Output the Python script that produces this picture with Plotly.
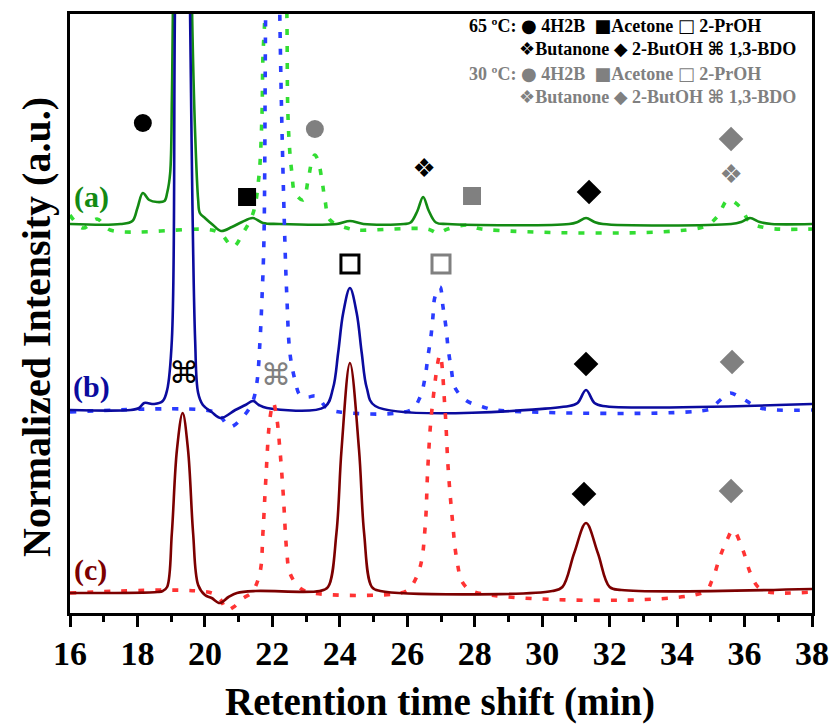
import plotly.graph_objects as go

# ---------------- data (retention time in min, intensity in a.u.) ----------------
a65_t = [16.0, 17.5, 17.85, 18.0, 18.16, 18.35, 18.58, 18.80, 18.88, 18.97, 19.02, 19.05, 19.34, 19.62, 19.71, 19.80, 19.85,
         20.0, 20.24, 20.48, 20.8, 21.1, 21.42, 21.72, 22.2, 23.9, 24.3, 24.7, 25.9, 26.10, 26.30, 26.47, 26.64, 26.85,
         27.2, 30.8, 31.05, 31.3, 31.55, 31.8, 35.6, 35.9, 36.16, 36.45, 36.8, 38.0]
a65_y = [389, 389, 392, 405, 420, 413, 411, 412, 420, 440, 513, 600, 1400, 600, 480, 413, 400,
         395, 388, 382, 386, 391, 395, 390, 389, 389, 392, 389, 389, 390.5, 402, 416, 402, 390.5,
         389, 389, 391, 395, 391, 389, 389, 391, 395, 391, 389, 389]

a30_t = [16.0, 16.39, 16.8, 17.19, 20.2, 20.51, 20.83, 21.13, 21.43, 21.60, 21.69, 21.72, 21.78, 22.10, 22.43, 22.46,
         22.52, 22.58, 22.67, 22.91, 23.06, 23.18, 23.26, 23.35, 23.47, 23.56, 23.71, 24.21, 24.5, 26.6, 26.91, 27.2,
         27.77, 28.2, 34.77, 35.18, 35.51, 35.87, 36.16, 36.67, 38.0]
a30_y = [398, 385, 394, 383, 383, 378, 366, 380, 400, 436, 496, 556, 600, 1400, 600, 500,
         460, 440, 420, 413, 433, 453, 458, 453, 433, 413, 393, 385, 383, 384, 380, 384,
         388, 384, 386, 396, 413, 406, 391, 385, 384]

b65_t = [16.0, 17.8, 18.05, 18.2, 18.5, 18.75, 18.88, 19.02, 19.11, 19.34, 19.56, 19.71, 19.80, 19.94, 20.2, 20.47,
         20.9, 21.2, 21.43, 21.6, 21.84, 23.55, 23.8, 23.95, 24.1, 24.3, 24.5, 24.65, 24.8, 25.05, 30.8, 31.05, 31.3,
         31.55, 31.8, 38.0]
b65_y = [203, 203, 205, 210, 209, 212, 223, 273, 600, 1400, 600, 273, 220, 208, 201, 195,
         203, 208, 212, 208, 205, 206, 225, 260, 300, 325, 300, 260, 225, 207, 207, 210, 223,
         210, 207, 209]

b30_t = [16.0, 20.3, 20.5, 20.74, 21.1, 21.4, 21.54, 21.63, 21.69, 21.75, 21.80, 22.02, 22.22, 22.37, 22.43, 22.52,
         22.67, 22.82, 23.05, 23.3, 23.62, 24.0, 26.1, 26.38, 26.53, 26.61, 26.70, 26.76, 26.82, 26.97, 27.06, 27.15,
         27.21, 27.30, 27.42, 27.77, 28.25, 28.6, 35.0, 35.12, 35.35, 35.57, 35.8, 36.01, 36.46, 38.0]
b30_y = [201, 201, 195, 186, 195, 210, 230, 270, 313, 373, 600, 1400, 600, 373, 316, 260,
         233, 218, 216, 217, 205, 201, 203, 216, 236, 256, 276, 296, 316, 326, 306, 285,
         265, 245, 225, 212, 206, 203, 204, 208, 215, 220, 217, 213, 205, 203]

c65_t = [16.0, 18.6, 18.75, 18.88, 19.02, 19.17, 19.34, 19.50, 19.65, 19.80, 20.0, 20.2, 20.44, 20.7, 20.95, 21.5,
         23.4, 23.65, 23.90, 24.05, 24.30, 24.57, 24.72, 24.95, 25.2, 30.3, 30.6, 30.95, 31.3, 31.65, 32.0, 32.35, 38.0]
c65_y = [20, 21, 22, 26, 80, 163, 200, 163, 80, 28, 18, 15, 10, 16, 20, 22,
         22, 26, 80, 163, 250, 163, 80, 26, 22, 22, 26, 60, 90, 60, 26, 23, 24]

c30_t = [16.0, 20.2, 20.45, 20.65, 20.85, 21.1, 21.4, 21.63, 21.72, 21.80, 21.93, 22.03, 22.13, 22.22, 22.32, 22.43,
         22.52, 22.82, 23.2, 25.8, 26.08, 26.38, 26.53, 26.61, 26.73, 26.97, 27.12, 27.21, 27.33, 27.47, 27.65, 28.0,
         34.8, 35.04, 35.27, 35.48, 35.66, 35.95, 36.16, 36.40, 36.7, 38.0]
c30_y = [20, 20, 14, 3, 6, 14, 21, 40, 80, 130, 195, 210, 195, 165, 120, 60,
         40, 25, 20, 20, 25, 46, 86, 146, 203, 258, 203, 146, 96, 53, 30, 21,
         21, 33, 56, 73, 83, 63, 41, 26, 21, 21]

# compound labels (65 ºC black, 30 ºC grey)
k_circle = [(18.16, 490), (23.26, 484)]
k_square = [(21.25, 416), (27.92, 417)]
k_open = [(24.30, 349), (27.00, 349)]
k_diam65 = [(31.39, 421), (31.30, 249), (31.24, 119)]
k_diam30 = [(35.60, 474), (35.63, 251), (35.60, 122)]
k_buta = [(26.50, 443), (35.60, 437)]
k_bdo = [(19.38, 238), (22.11, 236)]
group_labels = ["(a)", "(b)", "(c)"]
group_pos = [(16.65, 416), (16.65, 226), (16.6, 43)]

GREEN, LGREEN = "#138a13", "#33dd33"
NAVY, BLUE = "#0b0b9e", "#2a3cff"
DRED, RED = "#7c0000", "#ff3333"
GREY = "#808080"
SERIF = "Liberation Serif, Times New Roman, serif"
SYM = "DejaVu Sans, sans-serif"

fig = go.Figure()
dash = "6px,11px"

def add_line(t, y, color, dashed):
    fig.add_trace(go.Scatter(x=t, y=y, mode="lines",
                             line=dict(color=color, width=3.6 if dashed else 2.6,
                                       dash=dash if dashed else "solid", shape="spline", smoothing=1.0),
                             hoverinfo="skip", showlegend=False))

add_line(a30_t, a30_y, LGREEN, True)
add_line(a65_t, a65_y, GREEN, False)
add_line(b30_t, b30_y, BLUE, True)
add_line(b65_t, b65_y, NAVY, False)
add_line(c30_t, c30_y, RED, True)
add_line(c65_t, c65_y, DRED, False)

def add_markers(pts, colors, symbol, size, lw=0):
    fig.add_trace(go.Scatter(x=[p[0] for p in pts], y=[p[1] for p in pts], mode="markers",
                             marker=dict(symbol=symbol, size=size, color=colors,
                                         line=dict(width=lw, color=colors)),
                             hoverinfo="skip", showlegend=False, cliponaxis=False))

add_markers(k_circle, ["black", GREY], "circle", 18)
add_markers(k_square, ["black", GREY], "square", 18)
add_markers(k_open, ["black", GREY], "square-open", 18, 3)
add_markers(k_diam65, "black", "diamond", 19)
add_markers(k_diam30, GREY, "diamond", 19)

def add_text(pts, colors, txt, size):
    fig.add_trace(go.Scatter(x=[p[0] for p in pts], y=[p[1] for p in pts], mode="text",
                             text=[txt] * len(pts), textposition="middle center",
                             textfont=dict(family=SYM, size=size, color=colors),
                             hoverinfo="skip", showlegend=False))

add_text(k_buta, ["black", GREY], "❖", 26)
add_text(k_bdo, ["black", GREY], "⌘", 30)

for lab, (x, y), col in zip(group_labels, group_pos, [GREEN, NAVY, DRED]):
    fig.add_annotation(x=x, y=y, text="<b>%s</b>" % lab, showarrow=False, xref="x", yref="y",
                       font=dict(family=SERIF, size=30, color=col), xanchor="center", yanchor="middle")

def sym(c):
    return '<span style="font-family:DejaVu Sans">%s</span>' % c

legend_lines = [
    ("65 ºC: %s 4H2B  %sAcetone %s 2-PrOH" % (sym("●"), sym("■"), sym("□")), "black", 467, 25),
    ("%sButanone %s 2-ButOH %s 1,3-BDO" % (sym("❖"), sym("◆"), sym("⌘")), "black", 517, 49),
    ("30 ºC: %s 4H2B  %sAcetone %s 2-PrOH" % (sym("●"), sym("■"), sym("□")), GREY, 467, 73),
    ("%sButanone %s 2-ButOH %s 1,3-BDO" % (sym("❖"), sym("◆"), sym("⌘")), GREY, 517, 96),
]
for txt, col, px, py in legend_lines:
    fig.add_annotation(x=(px - 70) / 742, y=(613 - py) / 599, xref="paper", yref="paper",
                       text="<b>%s</b>" % txt, showarrow=False, xanchor="left", yanchor="middle",
                       font=dict(family=SERIF, size=18, color=col))

fig.add_annotation(x=(36 - 70) / 742, y=(613 - 327) / 599, xref="paper", yref="paper",
                   text="<b>Normalized Intensity (a.u.)</b>", textangle=-90, showarrow=False,
                   xanchor="center", yanchor="middle", font=dict(family=SERIF, size=40, color="black"))
fig.add_annotation(x=(440 - 70) / 742, y=(613 - 702) / 599, xref="paper", yref="paper",
                   text="<b>Retention time shift (min)</b>", showarrow=False,
                   xanchor="center", yanchor="middle", font=dict(family=SERIF, size=39, color="black"))

fig.update_xaxes(range=[16, 38], tickvals=list(range(16, 39, 2)), ticks="outside", ticklen=11, tickwidth=2.5,
                 tickcolor="black", showline=True, linewidth=2.8, linecolor="black", mirror=True,
                 showgrid=False, zeroline=False, automargin=False, ticklabelstandoff=-3,
                 tickfont=dict(family=SERIF, size=34, color="black", weight="bold"),
                 minor=dict(dtick=1, tick0=16, ticks="outside", ticklen=6, tickwidth=2.5, tickcolor="black",
                            showgrid=False))
fig.update_yaxes(range=[0, 599], showticklabels=False, ticks="", showline=True, linewidth=2.8,
                 linecolor="black", mirror=True, showgrid=False, zeroline=False, automargin=False)

fig.update_layout(width=834, height=725, margin=dict(l=70, r=22, t=14, b=112, autoexpand=False),
                  plot_bgcolor="white", paper_bgcolor="white", showlegend=False)

fig.write_html("out.html")
